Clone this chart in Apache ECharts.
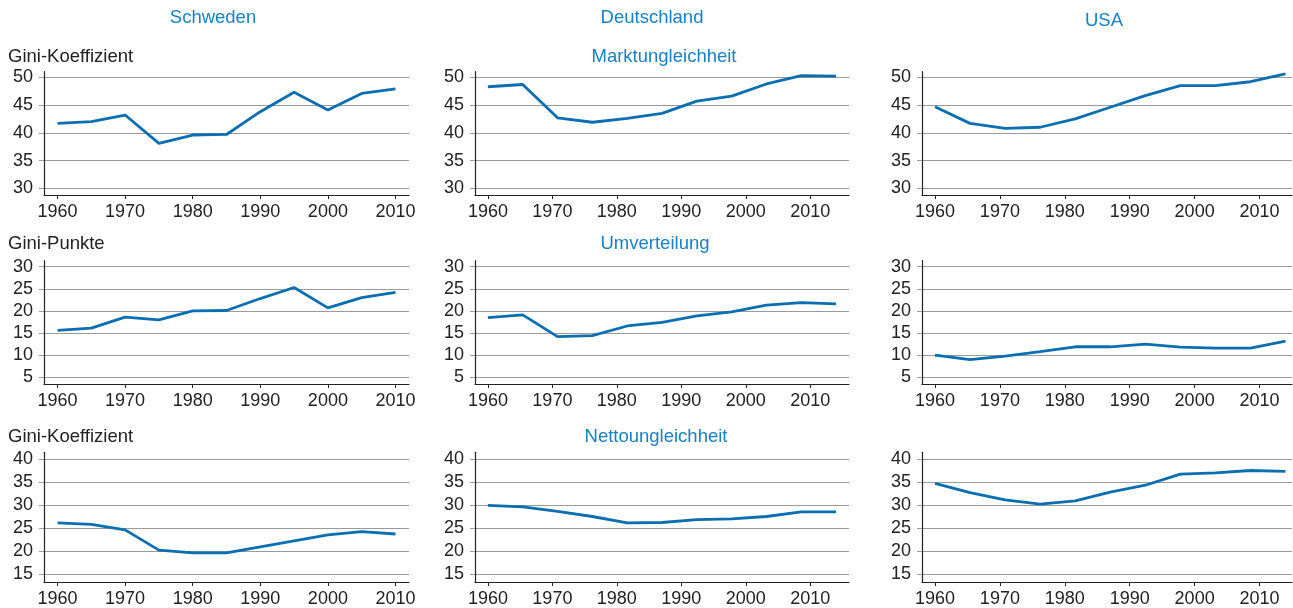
<!DOCTYPE html>
<html>
<head>
<meta charset="utf-8">
<title>Gini</title>
<script src="https://cdn.jsdelivr.net/npm/echarts@6/dist/echarts.min.js"></script>
<style>
	html, body { margin: 0; padding: 0; background: #fff; }
	#chart { width: 1293px; height: 608px; }
</style>
</head>
<body>
<div id="chart"></div>
<script>
// Jahre (x-Werte)
const yearsSE = [1960, 1965, 1970, 1975, 1980, 1985, 1990, 1995, 2000, 2005, 2010];
const yearsDEUS = [1960, 1965.4, 1970.8, 1976.2, 1981.6, 1987, 1992.4, 1997.8, 2003.2, 2008.6, 2014];
const xTickYears = [1960, 1970, 1980, 1990, 2000, 2010];

const countries = ["Schweden", "Deutschland", "USA"];
const rowTitles = ["Marktungleichheit", "Umverteilung", "Nettoungleichheit"];
const rowUnits = ["Gini-Koeffizient", "Gini-Punkte", "Gini-Koeffizient"];

// Marktungleichheit
const marketSE = [41.7, 42.0, 43.2, 38.1, 39.6, 39.7, 43.8, 47.3, 44.1, 47.1, 47.9];
const marketDE = [48.3, 48.7, 42.7, 41.9, 42.6, 43.5, 45.7, 46.6, 48.8, 50.3, 50.2];
const marketUS = [44.7, 41.7, 40.8, 41.0, 42.5, 44.6, 46.7, 48.5, 48.5, 49.2, 50.6];

// Umverteilung
const redistSE = [15.6, 16.1, 18.6, 18.0, 20.0, 20.1, 22.8, 25.3, 20.7, 23.0, 24.2];
const redistDE = [18.5, 19.1, 14.2, 14.4, 16.6, 17.4, 18.9, 19.8, 21.3, 21.9, 21.6];
const redistUS = [10.0, 9.0, 9.8, 10.8, 11.9, 11.9, 12.5, 11.8, 11.6, 11.6, 13.2];

// Nettoungleichheit
const netSE = [26.1, 25.8, 24.6, 20.2, 19.6, 19.6, 20.9, 22.2, 23.5, 24.2, 23.7];
const netDE = [29.9, 29.6, 28.6, 27.5, 26.1, 26.2, 26.8, 27.0, 27.5, 28.5, 28.5];
const netUS = [34.7, 32.7, 31.1, 30.2, 30.9, 32.8, 34.3, 36.7, 37.0, 37.5, 37.3];

// Achsenbereiche je Zeile
const yMin = [30, 5, 15];
const yMax = [50, 30, 40];
const yStep = 5;

// Layout (Pixel)
const colLeft = [44, 475, 922];
const colWidth = [365, 374, 370];
const xMin = [1958, 1958, 1958];
const xMax = [2012, 2016, 2015];
const rowTop = [77.3, 266.7, 459];
const rowBottom = [188.3, 377.3, 574.3];
const axisTop = [71.7, 260.7, 452.3];
const axisBottom = [195, 384, 582.3];

const lineColor = "#0b6eb0";
const titleColor = "#1a80c4";
const gridColor = "#9a9a9a";
const textColor = "#222";
const font = "'Liberation Sans', Arial, sans-serif";
const tickSize = 18;
const textSize = 18.5;

const panelYears = [yearsSE, yearsDEUS, yearsDEUS];
const panelValues = [
	[marketSE, marketDE, marketUS],
	[redistSE, redistDE, redistUS],
	[netSE, netDE, netUS],
];

const grid = [];
const xAxis = [];
const yAxis = [];
const series = [];

for (let r = 0; r < 3; r++) {
	for (let c = 0; c < 3; c++) {
		const gi = grid.length;
		// Hauptraster mit Daten
		grid.push({
			left: colLeft[c],
			width: colWidth[c],
			top: rowTop[r],
			height: rowBottom[r] - rowTop[r],
		});
		xAxis.push({
			type: "value",
			gridIndex: gi,
			min: xMin[c],
			max: xMax[c],
			offset: axisBottom[r] - rowBottom[r],
			axisLine: { show: true, lineStyle: { color: textColor, width: 1.2 } },
			axisTick: { show: true, length: 4, customValues: xTickYears, lineStyle: { color: textColor } },
			axisLabel: {
				customValues: xTickYears,
				formatter: (v) => String(v),
				color: textColor,
				fontSize: tickSize,
				fontFamily: font,
				margin: 8,
			},
			splitLine: { show: false },
		});
		yAxis.push({
			type: "value",
			gridIndex: gi,
			min: yMin[r],
			max: yMax[r],
			interval: yStep,
			axisLine: { show: false },
			axisTick: { show: true, length: 5, lineStyle: { color: gridColor } },
			axisLabel: { color: textColor, fontSize: tickSize, fontFamily: font, margin: 11 },
			splitLine: { show: true, lineStyle: { color: gridColor, width: 1 } },
		});
		series.push({
			type: "line",
			xAxisIndex: gi,
			yAxisIndex: gi,
			data: panelYears[c].map((yr, i) => [yr, panelValues[r][c][i]]),
			showSymbol: false,
			clip: false,
			lineStyle: { color: lineColor, width: 2.8 },
			itemStyle: { color: lineColor },
			silent: true,
		});
	}
}

// Hilfsraster: nur die senkrechte Achsenlinie (länger als das Datenraster)
for (let r = 0; r < 3; r++) {
	for (let c = 0; c < 3; c++) {
		const gi = grid.length;
		grid.push({
			left: colLeft[c],
			width: colWidth[c],
			top: axisTop[r],
			height: axisBottom[r] - axisTop[r],
		});
		xAxis.push({ type: "value", gridIndex: gi, min: 0, max: 1, show: false });
		yAxis.push({
			type: "value",
			gridIndex: gi,
			min: 0,
			max: 1,
			axisLine: { show: true, lineStyle: { color: textColor, width: 1.2 } },
			axisTick: { show: false },
			axisLabel: { show: false },
			splitLine: { show: false },
		});
	}
}

// Texte
const title = [];
const countryCenter = [213, 652, 1104];
const countryTop = [8, 8, 11];
countries.forEach((name, c) => {
	title.push({
		text: name,
		left: countryCenter[c],
		top: countryTop[c],
		padding: 0,
		textAlign: "center",
		textStyle: { color: titleColor, fontSize: textSize, fontWeight: "normal", fontFamily: font },
	});
});
const rowLabelTop = [47, 234, 427];
const subCenter = [664, 655, 656];
rowUnits.forEach((unit, r) => {
	title.push({
		text: unit,
		left: 8,
		top: rowLabelTop[r],
		padding: 0,
		textStyle: { color: textColor, fontSize: textSize, fontWeight: "normal", fontFamily: font },
	});
	title.push({
		text: rowTitles[r],
		left: subCenter[r],
		top: rowLabelTop[r],
		padding: 0,
		textAlign: "center",
		textStyle: { color: titleColor, fontSize: textSize, fontWeight: "normal", fontFamily: font },
	});
});

const chart = echarts.init(document.getElementById("chart"));
chart.setOption({
	animation: false,
	title: title,
	grid: grid,
	xAxis: xAxis,
	yAxis: yAxis,
	series: series,
});
</script>
</body>
</html>
